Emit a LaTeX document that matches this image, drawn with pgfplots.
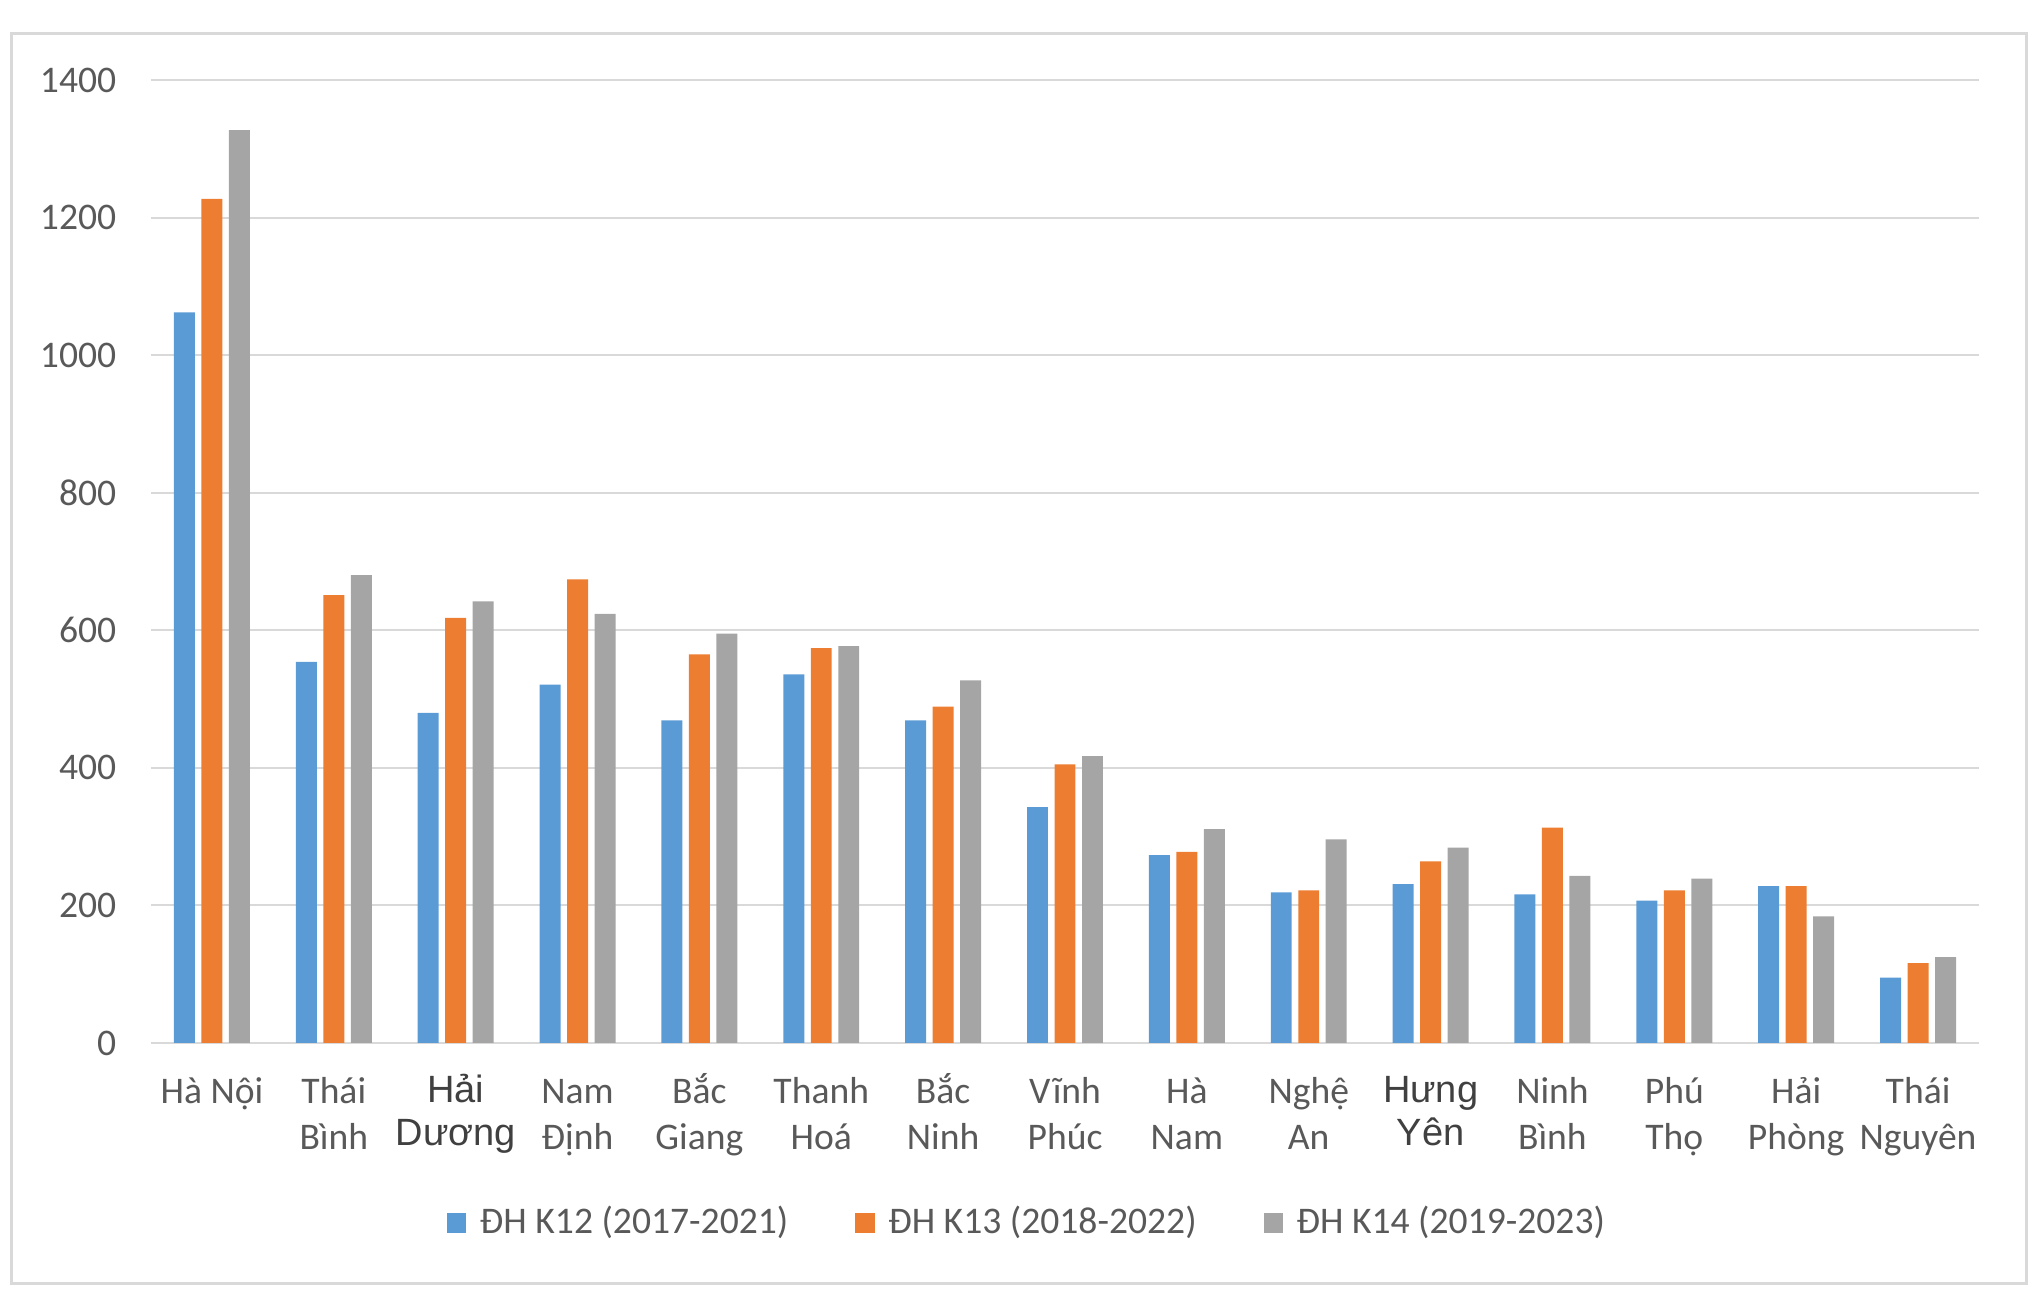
\documentclass[border=0pt]{standalone}
\usepackage{fontspec}
\setmainfont{Carlito}
\newfontfamily\arialf{Liberation Sans}
\usepackage{pgfplots}
\pgfplotsset{compat=1.18}
\definecolor{c1}{HTML}{5B9BD5}
\definecolor{c2}{HTML}{ED7D31}
\definecolor{c3}{HTML}{A5A5A5}
\definecolor{gridgray}{HTML}{D9D9D9}
\definecolor{bordergray}{HTML}{D9D9D9}
\definecolor{textgray}{HTML}{595959}
\definecolor{darkgray2}{HTML}{404040}
\newcommand{\tl}[2]{\rule{0pt}{9pt}#1\\#2}
\newcommand{\af}{\arialf\fontsize{9.5}{10.3}\selectfont\color{darkgray2}}
\newcommand{\ta}[2]{{\af\rule{0pt}{8.8pt}#1}\\[-0.9pt]{\af #2}}
\pgfplotsset{lsq/.style={legend image code/.code={\fill[##1,draw=none] (0pt,-2.4pt) rectangle (4.8pt,2.4pt);}}}
\pgfplotstableread{
x k12 k13 k14
0 1062 1227 1327
1 554 651 680
2 480 618 642
3 521 674 624
4 469 565 595
5 536 574 577
6 469 489 527
7 343 405 417
8 273 278 311
9 219 222 296
10 231 264 284
11 216 313 243
12 207 222 239
13 228 228 184
14 95 116 125
}\datatable
\begin{document}
\begin{tikzpicture}
\draw[color=bordergray, line width=0.75pt] (-34.75pt,-60.25pt) rectangle (468.75pt,252.25pt);
\begin{axis}[
  at={(0pt,0pt)}, anchor=south west,
  scale only axis, width=457pt, height=240.75pt,
  xmin=-0.5, xmax=14.5, ymin=0, ymax=1400,
  ytick={0,200,...,1400},
  xtick={0,...,14},
  xticklabels={
    {\tl{Hà Nội}{}},
    {\tl{Thái}{Bình}},
    {\ta{Hải}{Dương}},
    {\tl{Nam}{Định}},
    {\tl{Bắc}{Giang}},
    {\tl{Thanh}{Hoá}},
    {\tl{Bắc}{Ninh}},
    {\tl{Vĩnh}{Phúc}},
    {\tl{Hà}{Nam}},
    {\tl{Nghệ}{An}},
    {\ta{Hưng}{Yên}},
    {\tl{Ninh}{Bình}},
    {\tl{Phú}{Thọ}},
    {\tl{Hải}{Phòng}},
    {\tl{Thái}{Nguyên}}},
  ymajorgrids, grid style={draw=gridgray, line width=0.5pt},
  axis line style={draw=none},
  major tick length=0pt, tick style={draw=none},
  scaled y ticks=false,
  /pgf/number format/1000 sep={},
  /pgf/number format/assume math mode=true,
  yticklabel style={anchor=east, inner sep=0pt, xshift=-8.5pt, text=textgray, font=\fontsize{9.4}{11}\selectfont},
  xticklabel style={anchor=north, inner sep=0pt, yshift=-6pt, align=center, text=textgray, font=\fontsize{9.4}{11.5}\selectfont},
  clip=false,
  legend columns=3,
  legend style={at={(axis description cs:0.4787,-0.1869)}, anchor=center, draw=none, fill=none,
    font=\fontsize{9.4}{11}\selectfont, text=textgray, inner sep=0pt, nodes={inner sep=0pt},
    /tikz/every odd column/.append style={column sep=3.4pt},
    /tikz/every even column/.append style={column sep=16.8pt}},
]
\addplot[ybar, fill=c1, draw=none, bar width=0.172, bar shift=-0.2256, lsq] table[x=x, y=k12] {\datatable};
\addplot[ybar, fill=c2, draw=none, bar width=0.172, bar shift=0, lsq] table[x=x, y=k13] {\datatable};
\addplot[ybar, fill=c3, draw=none, bar width=0.172, bar shift=0.2256, lsq] table[x=x, y=k14] {\datatable};
\legend{ĐH K12 (2017-2021), ĐH K13 (2018-2022), ĐH K14 (2019-2023)}
\end{axis}
\pgfresetboundingbox
\path[use as bounding box] (-37.75pt,-62.75pt) rectangle (471.75pt,260.75pt);
\end{tikzpicture}
\end{document}
